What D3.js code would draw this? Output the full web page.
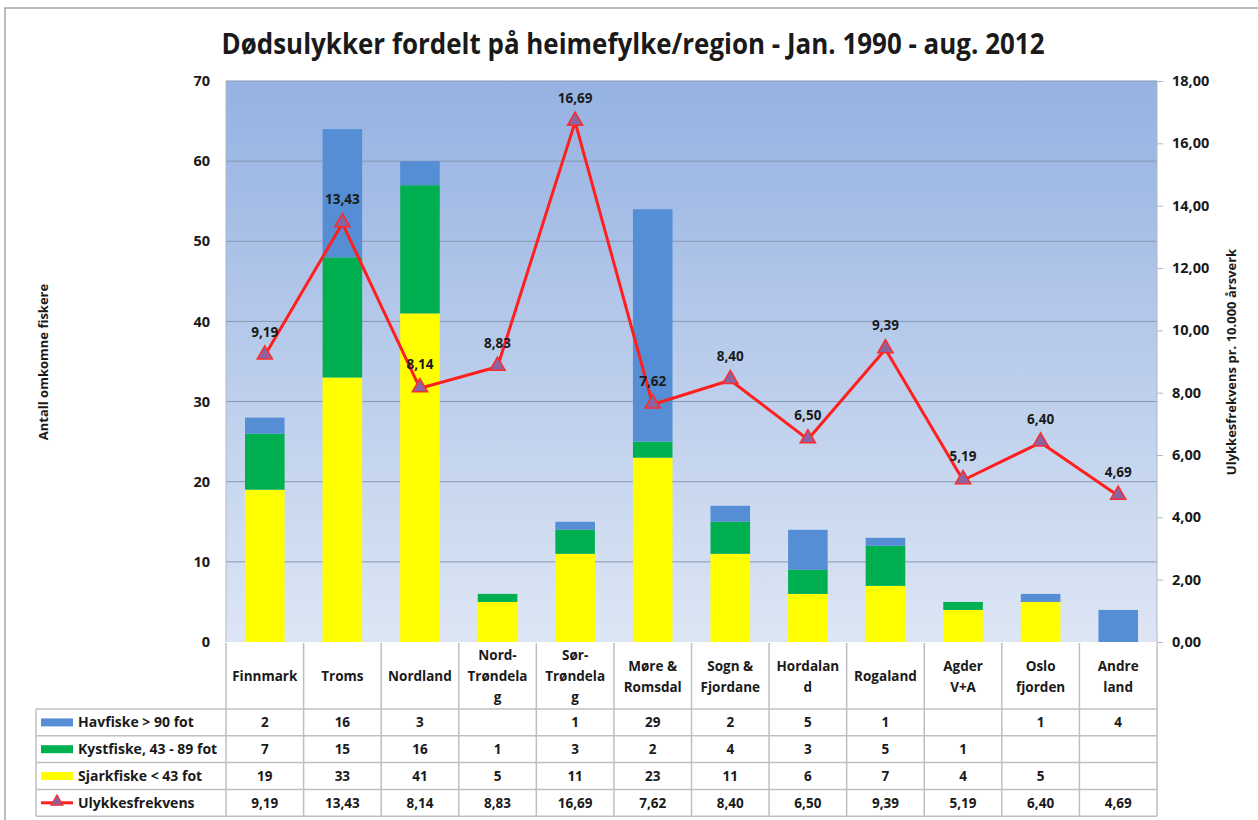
<!DOCTYPE html>
<html>
<head>
<meta charset="utf-8">
<script src="https://cdn.jsdelivr.net/npm/d3@7"></script>
<style>
  body { margin: 0; background: #fff; }
  svg text { font-family: "Open Sans", "Noto Sans", sans-serif; font-weight: bold; fill: #1a1a1a; }
</style>
</head>
<body>
<div id="chart"></div>
<script>
// Regions (header text, line breaks as in the original table)
const categories = ['Finnmark', 'Troms', 'Nordland', 'Nord-\nTrøndela\ng', 'Sør-\nTrøndela\ng',
  'Møre &\nRomsdal', 'Sogn &\nFjordane', 'Hordalan\nd', 'Rogaland', 'Agder\nV+A', 'Oslo\nfjorden', 'Andre\nland'];

// Deaths per vessel group (null = empty cell in the table)
const havfiske   = [2, 16, 3, null, 1, 29, 2, 5, 1, null, 1, 4];
const kystfiske  = [7, 15, 16, 1, 3, 2, 4, 3, 5, 1, null, null];
const sjarkfiske = [19, 33, 41, 5, 11, 23, 11, 6, 7, 4, 5, null];

// Accident frequency per 10 000 man-years
const frekvens = [9.19, 13.43, 8.14, 8.83, 16.69, 7.62, 8.40, 6.50, 9.39, 5.19, 6.40, 4.69];

const leftTicks = [0, 10, 20, 30, 40, 50, 60, 70];
const rightTicks = [0, 2, 4, 6, 8, 10, 12, 14, 16, 18];

const series = [
  { name: 'Havfiske > 90 fot', values: havfiske, color: '#558ed5' },
  { name: 'Kystfiske, 43 - 89 fot', values: kystfiske, color: '#00b050' },
  { name: 'Sjarkfiske < 43 fot', values: sjarkfiske, color: '#ffff00' }
];

const W = 1258, H = 820;
const plot = { left: 226, right: 1157, top: 81, bottom: 642 };
const fmt = v => v.toFixed(2).replace('.', ',');

const svg = d3.select('#chart').append('svg')
  .attr('width', W).attr('height', H);

// outer frame
svg.append('path')
  .attr('d', `M5,${H} L5,8 L${W},8`)
  .attr('fill', 'none').attr('stroke', '#a6a6a6').attr('stroke-width', 1.5);

// background gradient
const grad = svg.append('defs').append('linearGradient')
  .attr('id', 'bg').attr('x1', 0).attr('y1', 0).attr('x2', 0).attr('y2', 1);
grad.append('stop').attr('offset', '0%').attr('stop-color', '#95b2e2');
grad.append('stop').attr('offset', '100%').attr('stop-color', '#dde6f4');

svg.append('rect')
  .attr('x', plot.left).attr('y', plot.top)
  .attr('width', plot.right - plot.left).attr('height', plot.bottom - plot.top)
  .attr('fill', 'url(#bg)');

// scales
const x = d3.scaleBand().domain(d3.range(categories.length)).range([plot.left, plot.right]).padding(0);
const y = d3.scaleLinear().domain([0, 70]).range([plot.bottom, plot.top]);
const y2 = d3.scaleLinear().domain([0, 18]).range([plot.bottom, plot.top]);
const barW = x.bandwidth() * 0.51;

// gridlines
svg.append('g').selectAll('line').data(leftTicks.slice(1)).join('line')
  .attr('x1', plot.left).attr('x2', plot.right)
  .attr('y1', d => y(d)).attr('y2', d => y(d))
  .attr('stroke', '#8797b0').attr('stroke-width', 1);

// stacked bars
const stackInput = d3.range(categories.length).map(i => ({
  i, sjark: sjarkfiske[i] || 0, kyst: kystfiske[i] || 0, hav: havfiske[i] || 0
}));
const stack = d3.stack().keys(['sjark', 'kyst', 'hav'])(stackInput);
const keyColor = { sjark: '#ffff00', kyst: '#00b050', hav: '#558ed5' };

svg.append('g').selectAll('g').data(stack).join('g')
  .attr('fill', d => keyColor[d.key])
  .selectAll('rect').data(d => d).join('rect')
  .attr('x', d => x(d.data.i) + (x.bandwidth() - barW) / 2)
  .attr('width', barW)
  .attr('y', d => y(d[1]))
  .attr('height', d => y(d[0]) - y(d[1]));

// axes lines
svg.append('line').attr('x1', plot.left).attr('x2', plot.left)
  .attr('y1', plot.top).attr('y2', plot.bottom).attr('stroke', '#b0b8c4');
svg.append('line').attr('x1', plot.right).attr('x2', plot.right)
  .attr('y1', plot.top).attr('y2', plot.bottom).attr('stroke', '#b0b8c4');

// left axis
const leftAxis = svg.append('g').attr('transform', `translate(${plot.left},0)`)
  .call(d3.axisLeft(y).tickValues(leftTicks).tickSize(0).tickPadding(16));
leftAxis.select('.domain').remove();
leftAxis.selectAll('text').attr('font-size', 14.5).style('font-family', '"Open Sans", sans-serif').attr('fill', '#1a1a1a');

// right axis
const rightAxis = svg.append('g').attr('transform', `translate(${plot.right},0)`)
  .call(d3.axisRight(y2).tickValues(rightTicks).tickFormat(fmt).tickSize(6).tickPadding(9));
rightAxis.select('.domain').remove();
rightAxis.selectAll('line').attr('stroke', '#b0b8c4');
rightAxis.selectAll('text').attr('font-size', 14.5).style('font-family', '"Open Sans", sans-serif').attr('fill', '#1a1a1a');

// line series
const lineGen = d3.line().x((d, i) => x(i) + x.bandwidth() / 2).y(d => y2(d));
svg.append('path').datum(frekvens)
  .attr('d', lineGen).attr('fill', 'none')
  .attr('stroke', '#ff1f1f').attr('stroke-width', 3).attr('stroke-linejoin', 'round');

const tri = d3.symbol().type(d3.symbolTriangle).size(100);
svg.append('g').selectAll('path').data(frekvens).join('path')
  .attr('d', tri)
  .attr('transform', (d, i) => `translate(${x(i) + x.bandwidth() / 2},${y2(d) - 1})`)
  .attr('fill', '#8a64a0').attr('stroke', '#ff2a2a').attr('stroke-width', 1.5);

svg.append('g').selectAll('text').data(frekvens).join('text')
  .attr('x', (d, i) => x(i) + x.bandwidth() / 2)
  .attr('y', d => y2(d) - 19)
  .attr('text-anchor', 'middle').attr('font-size', 13.5)
  .text(fmt);

// title
svg.append('text')
  .attr('x', 633).attr('y', 54).attr('text-anchor', 'middle')
  .attr('font-size', 29).attr('textLength', 823).attr('lengthAdjust', 'spacingAndGlyphs')
  .text('Dødsulykker fordelt på heimefylke/region - Jan. 1990 - aug. 2012');

// axis titles
svg.append('text')
  .attr('transform', `translate(48,362) rotate(-90)`)
  .attr('text-anchor', 'middle').attr('font-size', 13)
  .text('Antall omkomne fiskere');
svg.append('text')
  .attr('transform', `translate(1236,362) rotate(-90)`)
  .attr('text-anchor', 'middle').attr('font-size', 13)
  .text('Ulykkesfrekvens pr. 10.000 årsverk');

// data table
const tableTop = 643, headBottom = 709, rowH = 26.8, legendLeft = 36;
const rowYs = d3.range(5).map(k => headBottom + k * rowH);
const gridColor = '#bfbfbf';
const table = svg.append('g');

// horizontal lines
table.selectAll('line.h').data(rowYs).join('line').attr('class', 'h')
  .attr('x1', legendLeft).attr('x2', plot.right)
  .attr('y1', d => d).attr('y2', d => d)
  .attr('stroke', gridColor).attr('stroke-width', 1.5);
// vertical lines
const colEdges = d3.range(categories.length + 1).map(i => plot.left + i * x.step());
table.selectAll('line.v').data(colEdges).join('line').attr('class', 'v')
  .attr('x1', d => d).attr('x2', d => d)
  .attr('y1', tableTop).attr('y2', rowYs[4])
  .attr('stroke', gridColor).attr('stroke-width', 1.5);
table.append('line')
  .attr('x1', legendLeft).attr('x2', legendLeft)
  .attr('y1', headBottom).attr('y2', rowYs[4])
  .attr('stroke', gridColor).attr('stroke-width', 1.5);

// header labels
const lineH = 21;
categories.forEach((c, i) => {
  const lines = c.split('\n');
  const cy = (tableTop + headBottom) / 2 + 5;
  const t = table.append('text')
    .attr('x', x(i) + x.bandwidth() / 2)
    .attr('text-anchor', 'middle').attr('font-size', 13.5);
  lines.forEach((ln, k) => {
    t.append('tspan')
      .attr('x', x(i) + x.bandwidth() / 2)
      .attr('y', cy + (k - (lines.length - 1) / 2) * lineH)
      .text(ln);
  });
});

// value rows
const rows = [
  ...series.map(s => ({ name: s.name, color: s.color, cells: s.values.map(v => v == null ? '' : String(v)), type: 'bar' })),
  { name: 'Ulykkesfrekvens', color: '#ff1f1f', cells: frekvens.map(fmt), type: 'line' }
];

rows.forEach((r, k) => {
  const cy = rowYs[k] + rowH / 2;
  if (r.type === 'bar') {
    table.append('rect').attr('x', 41).attr('y', cy - 4).attr('width', 32).attr('height', 8).attr('fill', r.color);
  } else {
    table.append('line').attr('x1', 41).attr('x2', 73).attr('y1', cy).attr('y2', cy)
      .attr('stroke', r.color).attr('stroke-width', 3);
    table.append('path').attr('d', d3.symbol().type(d3.symbolTriangle).size(60))
      .attr('transform', `translate(57,${cy - 1})`)
      .attr('fill', '#8a64a0').attr('stroke', '#ff2a2a').attr('stroke-width', 1.2);
  }
  table.append('text').attr('x', 78).attr('y', cy + 5).attr('font-size', 14).text(r.name);
  table.append('g').selectAll('text').data(r.cells).join('text')
    .attr('x', (d, i) => x(i) + x.bandwidth() / 2)
    .attr('y', cy + 5).attr('text-anchor', 'middle').attr('font-size', 13.5)
    .text(d => d);
});
</script>
</body>
</html>
